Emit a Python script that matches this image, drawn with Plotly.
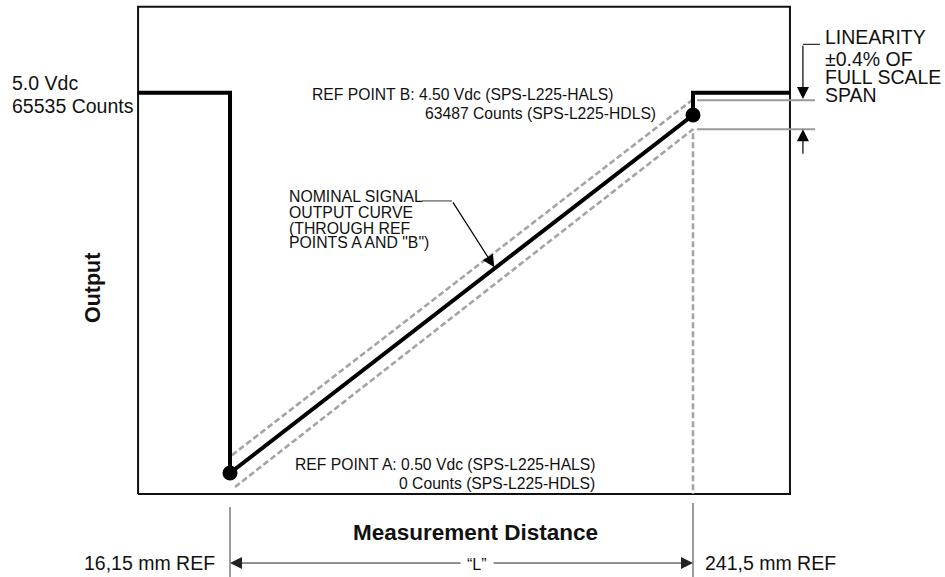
import plotly.graph_objects as go

# ---------------- data (x: distance in mm, y: output in Vdc) ----------------
ref_dist_mm = [16.15, 241.5]          # REF POINT A, REF POINT B
ref_out_v = [0.50, 4.50]
high_out_v = 4.75                     # saturated output level (drawn)

box_x = [-28.6, 288.7]
box_y = [0.265, 5.71]

step_x = [-28.6, 16.15, 16.15, 241.5, 241.5, 288.7]
step_y = [4.75, 4.75, 0.50, 4.50, 4.75, 4.75]

upper_band_x = [17.1, 241.0]
upper_band_y = [0.70, 4.665]
lower_band_x = [18.6, 241.5, 241.5]
lower_band_y = [0.344, 4.34, 0.265]

limit_x = [243.5, 300.9]
limit_hi_v = 4.665
limit_lo_v = 4.34

lin_arrow_x = 295.0
lin_leader_x = [295.0, 303.3]
lin_leader_y = 5.29
lin_top_tip_v = 4.68
lin_bot_tail_v = 4.05

nom_leader_x = [109.6, 124.2]
nom_leader_y = 3.54
nom_tip = (144.8, 2.80)

dim_ext_top_v = [0.12, 0.165]
dim_bottom_v = -0.662
dim_line_v = -0.506
dim_gap_mm = [129.1, 143.7]

x_range = [-95.8, 364.15]
y_range = [-0.662, 5.785]

FONT = "Arial, 'Liberation Sans', sans-serif"
BLACK = "#000000"
DASH_GREY = "#a4a4a4"
LINE_GREY = "#9a9a9a"
DIM = "#3a3a3a"

fig = go.Figure()

# plot frame
fig.add_trace(go.Scatter(
    x=[box_x[0], box_x[1], box_x[1], box_x[0], box_x[0]],
    y=[box_y[0], box_y[0], box_y[1], box_y[1], box_y[0]],
    mode="lines", line=dict(color="#111111", width=2), hoverinfo="skip"))

# tolerance band (dashed)
fig.add_trace(go.Scatter(x=upper_band_x, y=upper_band_y, mode="lines",
                         line=dict(color=DASH_GREY, width=2.6, dash="6px,3px"), hoverinfo="skip"))
fig.add_trace(go.Scatter(x=lower_band_x, y=lower_band_y, mode="lines",
                         line=dict(color=DASH_GREY, width=2.6, dash="6px,3px"), hoverinfo="skip"))

# linearity limit lines
for v in (limit_hi_v, limit_lo_v):
    fig.add_trace(go.Scatter(x=limit_x, y=[v, v], mode="lines",
                             line=dict(color=LINE_GREY, width=2), hoverinfo="skip"))

# nominal output curve
fig.add_trace(go.Scatter(x=step_x, y=step_y, mode="lines",
                         line=dict(color=BLACK, width=4), hoverinfo="skip"))
fig.add_trace(go.Scatter(x=ref_dist_mm, y=ref_out_v, mode="markers",
                         marker=dict(color=BLACK, size=15), hoverinfo="skip"))

# leaders
fig.add_trace(go.Scatter(x=lin_leader_x, y=[lin_leader_y, lin_leader_y], mode="lines",
                         line=dict(color=BLACK, width=1), hoverinfo="skip"))
fig.add_trace(go.Scatter(x=nom_leader_x, y=[nom_leader_y, nom_leader_y], mode="lines",
                         line=dict(color="#555555", width=1.2), hoverinfo="skip"))

# dimension extension lines
for xv, top in zip(ref_dist_mm, dim_ext_top_v):
    fig.add_trace(go.Scatter(x=[xv, xv], y=[top, dim_bottom_v], mode="lines",
                             line=dict(color=DIM, width=1), hoverinfo="skip"))

def arrow(tip, tail, color=BLACK, width=1.0, size=2.0):
    return dict(x=tip[0], y=tip[1], ax=tail[0], ay=tail[1], xref="x", yref="y",
                axref="x", ayref="y", text="", showarrow=True, arrowhead=2,
                arrowsize=size, arrowwidth=width, arrowcolor=color,
                standoff=0, startstandoff=0)

annotations = [
    arrow((lin_arrow_x, lin_top_tip_v), (lin_arrow_x, lin_leader_y), width=1.2),
    arrow((lin_arrow_x, limit_lo_v), (lin_arrow_x, lin_bot_tail_v), width=1.2),
    arrow(nom_tip, (nom_leader_x[1], nom_leader_y), width=1.2, size=2.0),
    arrow((ref_dist_mm[0], dim_line_v), (dim_gap_mm[0], dim_line_v), color="#222222", width=1.0, size=2.4),
    arrow((ref_dist_mm[1], dim_line_v), (dim_gap_mm[1], dim_line_v), color="#222222", width=1.0, size=2.4),
]

def label(text, x, y, xanchor="left", size=16, bold=False, angle=0):
    return dict(x=x, y=y, xref="x", yref="y", text=f"<b>{text}</b>" if bold else text,
                showarrow=False, xanchor=xanchor, yanchor="middle", textangle=angle,
                font=dict(family=FONT, size=size, color="#111111"))

annotations += [
    label("5.0 Vdc", -90.9, 4.857, size=19.5),
    label("65535 Counts", -90.9, 4.606, size=19.5),
    label("Output", -50.5, 2.567, xanchor="center", size=21.5, bold=True, angle=-90),
    label("REF POINT B: 4.50 Vdc (SPS-L225-HALS)", 55.1, 4.73, size=15.7),
    label("63487 Counts (SPS-L225-HDLS)", 224.6, 4.514, xanchor="right", size=15.7),
    label("REF POINT A: 0.50 Vdc (SPS-L225-HALS)", 46.8, 0.60, size=15.7),
    label("0 Counts (SPS-L225-HDLS)", 194.8, 0.388, xanchor="right", size=15.7),
    label("NOMINAL SIGNAL", 43.9, 3.584, size=15.8),
    label("OUTPUT CURVE", 43.9, 3.416, size=15.8),
    label("(THROUGH REF", 43.9, 3.237, size=15.8),
    label("POINTS A AND \"B\")", 43.9, 3.070, size=15.8),
    label("LINEARITY", 304.8, 5.371, size=19.5),
    label("±0.4% OF", 304.8, 5.126, size=19.5),
    label("FULL SCALE", 304.8, 4.925, size=19.5),
    label("SPAN", 304.8, 4.723, size=19.5),
    label("Measurement Distance", 135.4, -0.17, xanchor="center", size=22.5, bold=True),
    label("“L”", 136.4, -0.517, xanchor="center", size=16),
    label("16,15 mm REF", 9.8, -0.506, xanchor="right", size=19.5),
    label("241,5 mm REF", 246.4, -0.506, size=19.5),
]

fig.update_layout(
    width=945, height=577,
    margin=dict(l=0, r=0, t=0, b=0),
    paper_bgcolor="white", plot_bgcolor="white",
    showlegend=False,
    xaxis=dict(range=x_range, visible=False, fixedrange=True),
    yaxis=dict(range=y_range, visible=False, fixedrange=True),
    annotations=annotations,
)

fig.write_html(
    "out.html",
    config={"displayModeBar": False},
    post_script="document.body.style.margin='0';document.body.style.overflow='hidden';",
)
